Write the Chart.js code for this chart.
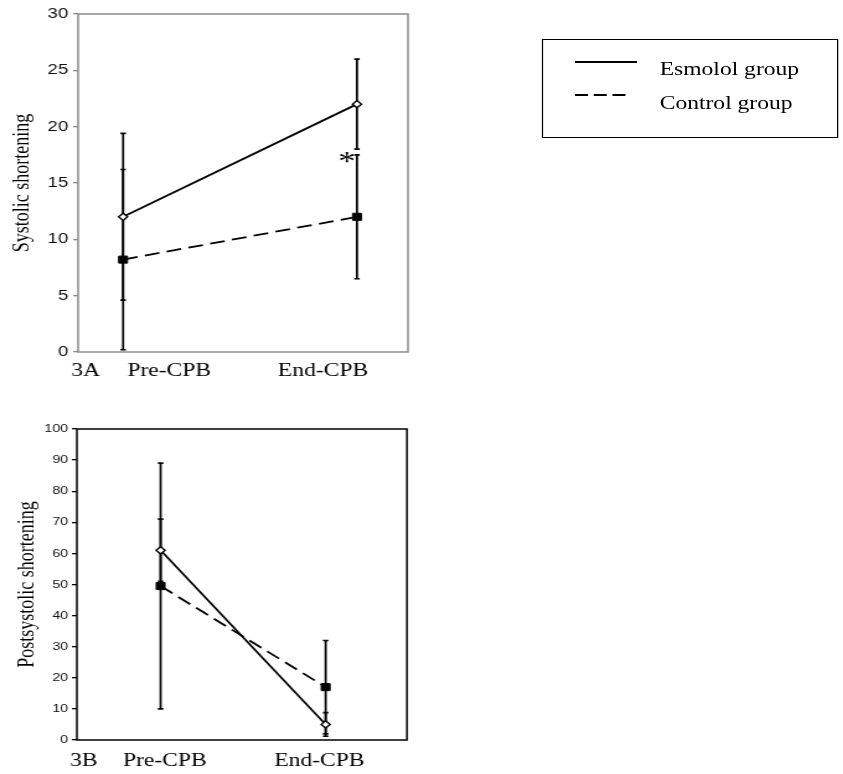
<!DOCTYPE html>
<html><head><meta charset="utf-8">
<script src="https://cdn.jsdelivr.net/npm/chart.js@4"></script>
<style>
html,body{margin:0;padding:0;background:#fff;}
body{width:843px;height:774px;overflow:hidden;position:relative;}
#wrap{position:absolute;left:0;top:0;width:680px;height:774px;transform:scaleX(1.24);transform-origin:0 0;}
#cA{position:absolute;left:0;top:0;}
#cB{position:absolute;left:0;top:405px;}
#legend{position:absolute;left:437px;top:39px;width:239px;height:99px;border:1.4px solid #000;box-sizing:border-box;}
.lt{position:absolute;left:532px;font-family:'Liberation Serif',serif;font-size:19px;line-height:19px;color:#000;white-space:nowrap;}
#lsvg{position:absolute;left:0;top:0;}
</style></head>
<body>
<div id="wrap">
  <canvas id="cA" width="345" height="395"></canvas>
  <canvas id="cB" width="345" height="369"></canvas>
  <div id="legend"></div>
  <svg id="lsvg" width="680" height="150">
    <line x1="463.7" y1="62" x2="513.7" y2="62" stroke="#000" stroke-width="1.8"/>
    <line x1="463.7" y1="95" x2="508.5" y2="95" stroke="#000" stroke-width="1.8" stroke-dasharray="10.5,4.6"/>
  </svg>
  <div class="lt" id="lt0" style="top:59px"></div>
  <div class="lt" id="lt1" style="top:93px"></div>
</div>
<script>
// ---- data ----
const categories = ['Pre-CPB', 'End-CPB'];
const seriesNames = ['Esmolol group', 'Control group'];
const xPos = [1, 2];

// Panel 3A: systolic shortening (mean, SD)
const esmololA = [12, 22];
const esmololA_sd = [7.4, 4];
const controlA = [8.2, 12];
const controlA_sd = [8, 5.5];

// Panel 3B: postsystolic shortening (mean, SD)
const esmololB = [61, 5];
const esmololB_sd = [10, 3.8];
const controlB = [49.5, 17];
const controlB_sd = [39.5, 15];

// tick labels
const xTickLabelsA = ['3A', 'Pre-CPB', 'End-CPB'];
const xTickLabelsB = ['3B', 'Pre-CPB', 'End-CPB'];
const xTickPosA = [0.84, 1.197, 1.855];
const xTickPosB = [0.535, 1.026, 1.962];
const yTitleA = 'Systolic shortening';
const yTitleB = 'Postsystolic shortening';

// significance marks (panel A)
const sigMarksA = [{x: 1.957, y: 17.3, text: '*'}];

document.getElementById('lt0').textContent = seriesNames[0];
document.getElementById('lt1').textContent = seriesNames[1];

const framePlugin = color => ({
  id: 'frame',
  beforeDatasetsDraw(chart) {
    const {ctx, chartArea: a} = chart;
    ctx.save();
    ctx.strokeStyle = color;
    ctx.lineWidth = 1.5;
    ctx.strokeRect(a.left, a.top, a.right - a.left, a.bottom - a.top);
    ctx.restore();
  }
});

const errorBarPlugin = {
  id: 'errbars',
  beforeDatasetsDraw(chart) {
    const {ctx} = chart;
    const xs = chart.scales.x, ys = chart.scales.y;
    chart.data.datasets.forEach(ds => {
      ds.data.forEach((p, i) => {
        const e = ds.errors[i];
        const px = xs.getPixelForValue(p.x);
        const top = ys.getPixelForValue(p.y + e);
        const bot = ys.getPixelForValue(Math.max(p.y - e, 0));
        ctx.save();
        ctx.strokeStyle = '#000';
        ctx.lineWidth = 1.7;
        ctx.beginPath();
        ctx.moveTo(px, top); ctx.lineTo(px, bot);
        ctx.moveTo(px - 2.2, top); ctx.lineTo(px + 2.2, top);
        ctx.moveTo(px - 2.2, bot); ctx.lineTo(px + 2.2, bot);
        ctx.stroke();
        ctx.restore();
      });
    });
  }
};

const marksPlugin = marks => ({
  id: 'marks',
  afterDatasetsDraw(chart) {
    const {ctx} = chart;
    const xs = chart.scales.x, ys = chart.scales.y;
    marks.forEach(m => {
      ctx.save();
      ctx.fillStyle = '#000';
      ctx.font = '28px "Liberation Serif"';
      ctx.textAlign = 'center';
      ctx.textBaseline = 'middle';
      ctx.fillText(m.text, xs.getPixelForValue(m.x), ys.getPixelForValue(m.y) + 6);
      ctx.restore();
    });
  }
});

function buildChart(id, o) {
  return new Chart(document.getElementById(id), {
    type: 'line',
    data: {
      datasets: [
        {
          label: seriesNames[0],
          data: xPos.map((x, i) => ({x: x, y: o.esm[i]})),
          errors: o.esmSd,
          borderColor: '#000', borderWidth: 1.8, tension: 0, fill: false,
          pointStyle: 'rectRot', pointRadius: 3.6, pointBackgroundColor: '#fff',
          pointBorderColor: '#000', pointBorderWidth: 1.4, order: 0
        },
        {
          label: seriesNames[1],
          data: xPos.map((x, i) => ({x: x, y: o.ctl[i]})),
          errors: o.ctlSd,
          borderColor: '#000', borderWidth: 1.8, borderDash: [12, 6], tension: 0, fill: false,
          pointStyle: 'rect', pointRadius: 5, pointBackgroundColor: '#000',
          pointBorderColor: '#000', pointBorderWidth: 1, order: 1
        }
      ]
    },
    options: {
      responsive: false, animation: false, devicePixelRatio: 1,
      layout: {padding: {left: 0, right: o.padR, top: o.padT, bottom: 0}},
      plugins: {legend: {display: false}, tooltip: {enabled: false}},
      scales: {
        x: {
          type: 'linear', min: o.xMin, max: o.xMax,
          grid: {display: false, drawTicks: false}, border: {display: false},
          afterBuildTicks: ax => { ax.ticks = o.xTickPos.map(v => ({value: v})); },
          afterFit: ax => { ax.height = o.xH; },
          ticks: {
            autoSkip: false, maxRotation: 0, minRotation: 0, padding: o.xPad, color: '#000',
            font: {family: 'Liberation Serif', size: 19},
            callback: (v, i) => o.xLabels[i]
          }
        },
        y: {
          min: 0, max: o.yMax,
          grid: {drawOnChartArea: false, tickLength: 4, color: o.frame, lineWidth: 1.3},
          border: {display: false},
          afterFit: ax => { ax.width = o.yW; },
          ticks: {stepSize: o.yStep, padding: o.yPad, color: '#111',
                  font: {family: 'Liberation Sans', size: o.yFont}},
          title: {display: true, text: o.yTitle, color: '#000',
                  font: {family: 'Liberation Serif', size: 18},
                  padding: {top: o.titlePad, bottom: 0}}
        }
      }
    },
    plugins: [framePlugin(o.frame), errorBarPlugin, marksPlugin(o.marks)]
  });
}

buildChart('cA', {
  esm: esmololA, esmSd: esmololA_sd, ctl: controlA, ctlSd: controlA_sd,
  xMin: 0.8077, xMax: 2.218, padR: 16, padT: 14, xH: 43, yW: 63, xPad: 8, yPad: 4,
  titlePad: 7, yMax: 30, yStep: 5, yFont: 15, frame: '#8c8c8c',
  xTickPos: xTickPosA, xLabels: xTickLabelsA, yTitle: yTitleA, marks: sigMarksA
});

buildChart('cB', {
  esm: esmololB, esmSd: esmololB_sd, ctl: controlB, ctlSd: controlB_sd,
  xMin: 0.4927, xMax: 2.4927, padR: 16.8, padT: 24, xH: 34, yW: 62, xPad: 10, yPad: 3,
  titlePad: 11, yMax: 100, yStep: 10, yFont: 11.5, frame: '#000',
  xTickPos: xTickPosB, xLabels: xTickLabelsB, yTitle: yTitleB, marks: []
});
</script>
</body></html>
